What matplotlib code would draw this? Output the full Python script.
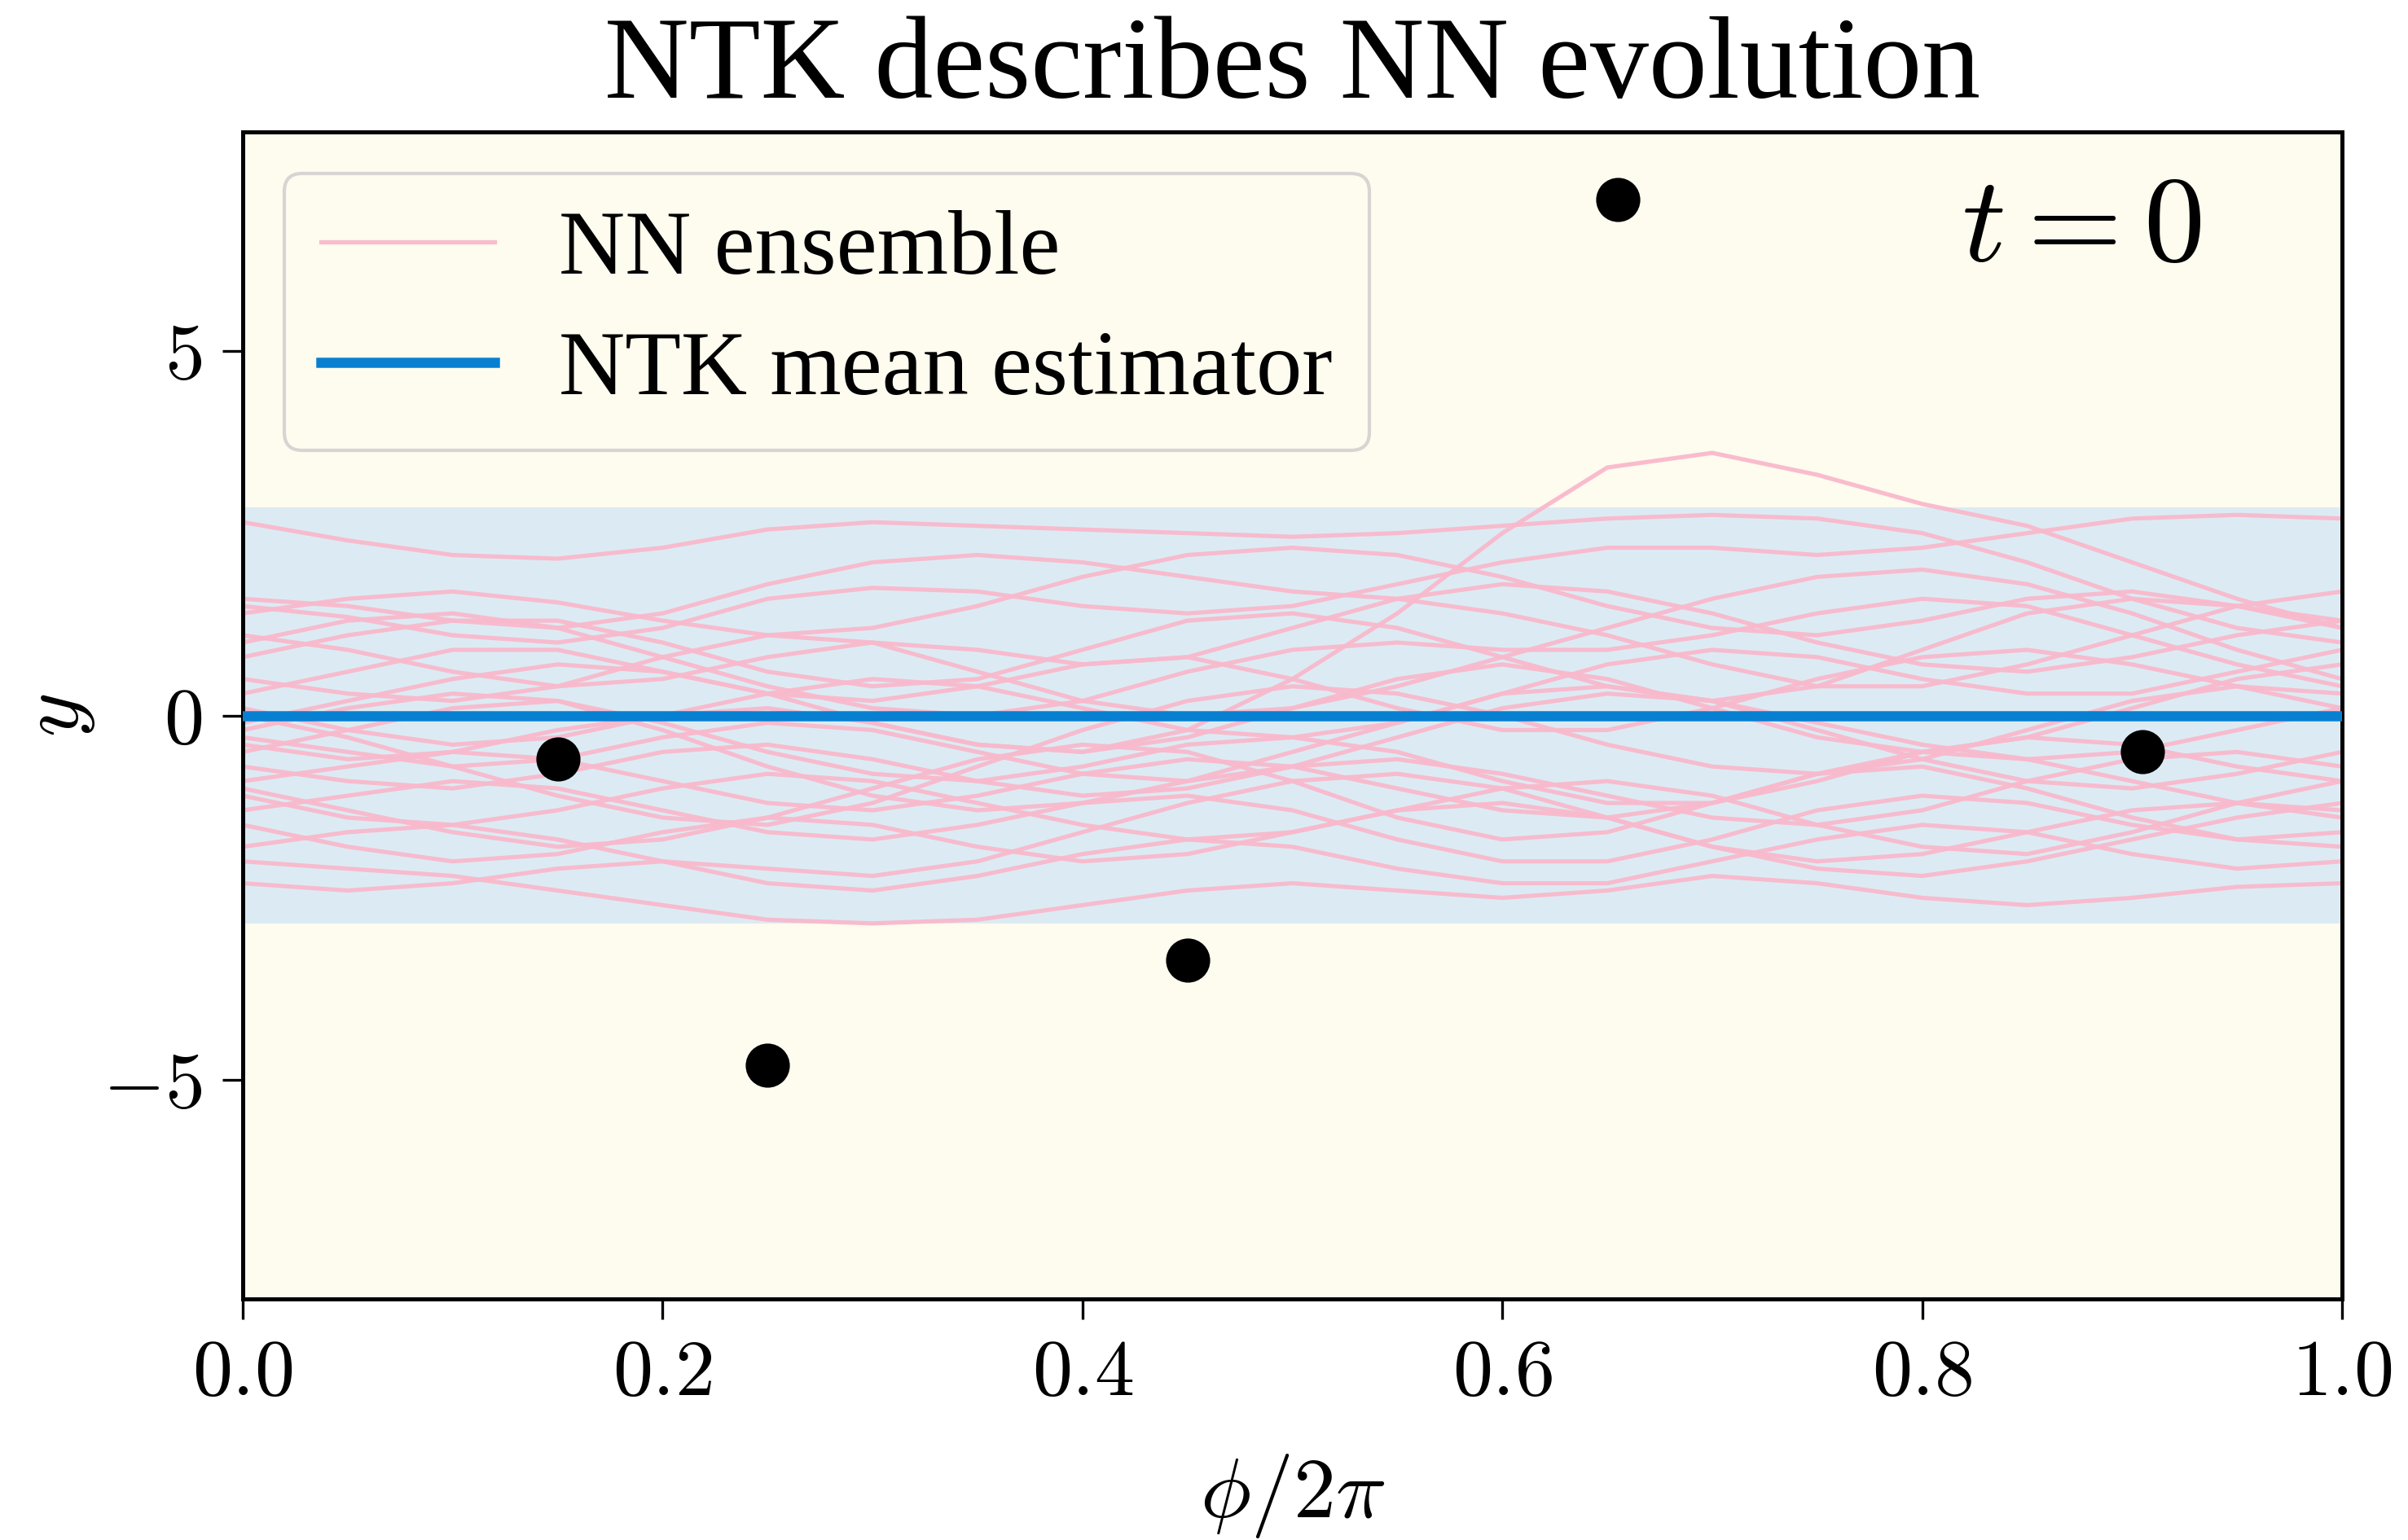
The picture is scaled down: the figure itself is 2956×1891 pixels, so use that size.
import numpy as np
import matplotlib
matplotlib.use("Agg")
import matplotlib.pyplot as plt
from matplotlib.ticker import FuncFormatter

plt.rcParams["font.family"] = ["Liberation Serif", "DejaVu Serif"]
plt.rcParams["mathtext.fontset"] = "cm"

# Grid of input angles (phi / 2pi)
phi = [0.00, 0.05, 0.10, 0.15, 0.20, 0.25, 0.30, 0.35, 0.40, 0.45, 0.50,
       0.55, 0.60, 0.65, 0.70, 0.75, 0.80, 0.85, 0.90, 0.95, 1.00]

# Outputs of the individual networks in the ensemble at t = 0
nn_ensemble = [
    [2.65, 2.40, 2.20, 2.15, 2.30, 2.55, 2.65, 2.60, 2.55, 2.50, 2.45, 2.50, 2.60, 2.70, 2.75, 2.70, 2.50, 2.10, 1.60, 1.20, 1.00],
    [-0.40, -0.60, -0.50, -0.20, 0.00, 0.10, -0.10, -0.40, -0.50, -0.20, 0.50, 1.40, 2.50, 3.40, 3.60, 3.30, 2.90, 2.60, 2.10, 1.60, 1.20],
    [1.50, 1.35, 1.10, 1.00, 1.20, 1.60, 1.75, 1.70, 1.50, 1.40, 1.50, 1.80, 2.10, 2.30, 2.30, 2.20, 2.30, 2.50, 2.70, 2.75, 2.70],
    [1.40, 1.60, 1.70, 1.55, 1.30, 1.10, 1.20, 1.50, 1.90, 2.20, 2.30, 2.20, 1.90, 1.50, 1.20, 1.10, 1.30, 1.60, 1.70, 1.50, 1.20],
    [1.10, 0.90, 0.60, 0.40, 0.50, 0.80, 1.00, 0.90, 0.70, 0.80, 1.20, 1.60, 1.80, 1.70, 1.40, 1.00, 0.70, 0.60, 0.80, 1.10, 1.30],
    [0.80, 1.10, 1.30, 1.30, 1.00, 0.60, 0.40, 0.50, 0.90, 1.30, 1.40, 1.20, 0.80, 0.40, 0.20, 0.40, 0.90, 1.40, 1.60, 1.50, 1.30],
    [0.50, 0.30, 0.20, 0.40, 0.80, 1.10, 1.00, 0.60, 0.20, 0.00, 0.10, 0.40, 0.80, 1.20, 1.60, 1.90, 2.00, 1.80, 1.40, 0.90, 0.50],
    [0.30, 0.60, 0.90, 0.90, 0.60, 0.30, 0.20, 0.40, 0.70, 0.80, 0.50, 0.10, -0.20, -0.20, 0.10, 0.50, 0.80, 0.90, 0.70, 0.40, 0.10],
    [0.10, -0.20, -0.40, -0.30, 0.00, 0.30, 0.50, 0.40, 0.10, -0.20, -0.30, -0.10, 0.30, 0.70, 0.90, 0.80, 0.50, 0.30, 0.30, 0.60, 0.90],
    [-0.10, 0.20, 0.50, 0.70, 0.60, 0.30, -0.10, -0.40, -0.50, -0.30, 0.10, 0.50, 0.70, 0.50, 0.10, -0.30, -0.50, -0.30, 0.10, 0.50, 0.70],
    [-0.30, -0.50, -0.70, -0.60, -0.30, -0.10, -0.20, -0.50, -0.80, -0.90, -0.70, -0.30, 0.10, 0.30, 0.20, -0.10, -0.40, -0.60, -0.50, -0.20, 0.10],
    [-0.50, -0.20, 0.10, 0.20, -0.10, -0.50, -0.80, -0.90, -0.70, -0.40, -0.30, -0.50, -0.90, -1.20, -1.20, -0.90, -0.50, -0.30, -0.40, -0.70, -0.90],
    [-0.70, -0.90, -1.00, -0.80, -0.50, -0.40, -0.60, -0.90, -1.10, -1.00, -0.70, -0.60, -0.80, -1.10, -1.40, -1.50, -1.30, -0.90, -0.60, -0.50, -0.70],
    [-0.90, -0.70, -0.50, -0.60, -0.90, -1.20, -1.30, -1.10, -0.80, -0.60, -0.70, -1.00, -1.30, -1.40, -1.20, -0.80, -0.50, -0.60, -0.90, -1.20, -1.30],
    [-1.10, -1.40, -1.50, -1.30, -1.00, -0.80, -0.90, -1.20, -1.50, -1.70, -1.60, -1.30, -1.00, -0.90, -1.10, -1.50, -1.80, -1.90, -1.60, -1.20, -0.90],
    [-1.30, -1.10, -0.90, -1.00, -1.30, -1.60, -1.70, -1.50, -1.20, -1.10, -1.30, -1.70, -2.00, -2.00, -1.70, -1.30, -1.10, -1.20, -1.50, -1.70, -1.60],
    [-1.50, -1.80, -2.00, -1.90, -1.60, -1.40, -1.50, -1.80, -2.00, -1.90, -1.60, -1.30, -1.20, -1.40, -1.80, -2.10, -2.20, -2.00, -1.70, -1.40, -1.20],
    [-1.80, -1.60, -1.50, -1.70, -2.00, -2.30, -2.40, -2.20, -1.90, -1.70, -1.80, -2.10, -2.30, -2.30, -2.00, -1.70, -1.50, -1.60, -1.90, -2.10, -2.00],
    [-2.00, -2.10, -2.20, -2.40, -2.60, -2.80, -2.85, -2.80, -2.60, -2.40, -2.30, -2.40, -2.50, -2.40, -2.20, -2.30, -2.50, -2.60, -2.50, -2.35, -2.30],
    [-2.30, -2.40, -2.30, -2.10, -2.00, -2.10, -2.20, -2.00, -1.60, -1.20, -0.90, -0.80, -1.00, -1.40, -1.80, -2.00, -1.90, -1.60, -1.30, -1.20, -1.40],
    [0.00, -0.30, -0.70, -1.10, -1.40, -1.50, -1.20, -0.70, -0.20, 0.20, 0.40, 0.30, 0.00, -0.40, -0.70, -0.80, -0.60, -0.20, 0.20, 0.40, 0.30],
    [1.00, 1.30, 1.40, 1.20, 0.80, 0.40, 0.10, 0.00, 0.20, 0.60, 0.90, 1.00, 0.90, 0.90, 1.10, 1.40, 1.60, 1.50, 1.10, 0.70, 0.40],
    [-0.20, 0.10, 0.30, 0.20, -0.20, -0.70, -1.10, -1.30, -1.20, -0.90, -0.50, -0.10, 0.30, 0.40, 0.20, -0.20, -0.60, -0.90, -1.00, -0.80, -0.50],
    [1.60, 1.50, 1.30, 1.20, 1.40, 1.80, 2.10, 2.20, 2.10, 1.90, 1.70, 1.60, 1.40, 1.10, 0.70, 0.40, 0.40, 0.70, 1.10, 1.50, 1.70],
    [-1.00, -1.30, -1.60, -1.80, -1.70, -1.40, -1.00, -0.60, -0.40, -0.50, -0.90, -1.40, -1.70, -1.60, -1.20, -0.80, -0.70, -1.00, -1.40, -1.70, -1.80],
]

# NTK mean estimator and its uncertainty band at t = 0
ntk_mean = [0.0] * len(phi)
ntk_lower = [-2.85] * len(phi)
ntk_upper = [2.85] * len(phi)

# Training data
train_x = [0.15, 0.25, 0.45, 0.655, 0.905]
train_y = [-0.60, -4.80, -3.35, 7.07, -0.50]

fig = plt.figure(figsize=(2956 / 300, 1891 / 300), dpi=300)
ax = fig.add_axes([0.1008, 0.1565, 0.8718, 0.7578])
ax.set_facecolor("#fefbef")

ax.fill_between(phi, ntk_lower, ntk_upper, color="#dcebf3", lw=0, zorder=1)

for i, curve in enumerate(nn_ensemble):
    ax.plot(phi, curve, color="#f9b9cc", lw=1.25, alpha=0.95, zorder=2,
            label="NN ensemble" if i == 0 else None)

ax.plot(phi, ntk_mean, color="#0880d1", lw=3.0, zorder=3,
        label="NTK mean estimator")

ax.plot(train_x, train_y, "o", color="black", ms=12, zorder=4)

ax.set_xlim(0, 1)
ax.set_ylim(-8, 8)
ax.set_xticks([0.0, 0.2, 0.4, 0.6, 0.8, 1.0])
ax.set_yticks([-5, 0, 5])
ax.xaxis.set_major_formatter(FuncFormatter(lambda v, p: f"${v:.1f}$"))
ax.yaxis.set_major_formatter(FuncFormatter(lambda v, p: f"${v:.0f}$"))
ax.tick_params(axis="both", labelsize=23.5, length=6, width=0.8, pad=6)
for s in ax.spines.values():
    s.set_linewidth(1.2)

ax.set_xlabel(r"$\phi/2\pi$", fontsize=25, va="center")
ax.xaxis.set_label_coords(0.5, -0.169)
ax.set_ylabel(r"$y$", fontsize=25, va="center")
ax.yaxis.set_label_coords(-0.0877, 0.5)
ax.set_title("NTK describes NN evolution", fontsize=34.5, pad=10)

ax.text(0.933, 0.915, r"$t=0$", transform=ax.transAxes, fontsize=36,
        ha="right", va="center")

leg = ax.legend(loc="upper left", fontsize=27, handlelength=1.9,
                handletextpad=0.7, labelspacing=0.4, borderaxespad=0.45,
                borderpad=0.4, fancybox=True, framealpha=0.8,
                facecolor="#fefbef", edgecolor="#cccccc")

fig.savefig("out.png", dpi=300)
